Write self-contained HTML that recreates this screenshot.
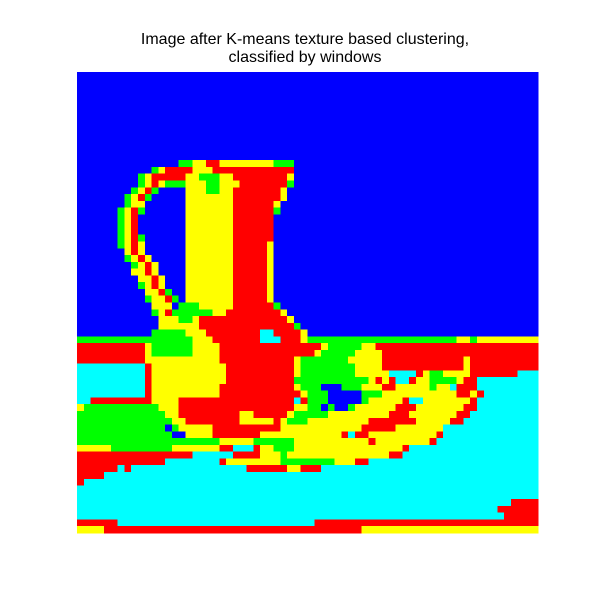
<!DOCTYPE html>
<html>
<head>
<meta charset="utf-8">
<style>
  html, body { margin: 0; padding: 0; background: #fff; }
  #wrap { position: relative; width: 600px; height: 600px; }
  .title { position: absolute; left: 0; width: 610px; text-align: center;
    font-family: "Liberation Sans", "DejaVu Sans", sans-serif; font-size: 16px; color: #000; }
</style>
</head>
<body>
<div id="wrap">
  <div class="title" style="top:31px;">Image after K-means texture based clustering,</div>
  <div class="title" style="top:49px;">classified by windows</div>
  <svg id="plot" width="600" height="600" style="position:absolute;left:0;top:0;"></svg>
</div>
<script>
// Cluster label grid (run-length per row): B=blue, G=green, Y=yellow, R=red, C=cyan
const gridRows = [
"B68","B68","B68","B68","B68","B68","B68","B68","B68","B68","B68","B68","B68",
"B15 G2 Y2 R2 Y8 G3 B36",
"B11 G1 Y1 R4 Y3 R12 B36",
"B9 G1 Y1 R5 Y2 G3 Y2 R8 Y1 B36",
"B9 G1 Y1 R1 Y1 G3 Y3 G2 Y3 R7 G1 B36",
"B8 G1 Y1 R1 G1 B4 Y3 G2 Y2 R7 Y1 B37",
"B7 G1 Y1 R1 G1 B5 Y7 R7 Y1 B37",
"B7 G1 Y2 B6 Y7 R6 Y1 B38",
"B6 G1 Y1 R1 G1 B6 Y7 R6 G1 B38",
"B6 G1 Y1 R1 B7 Y7 R6 B39",
"B6 G1 Y1 R1 B7 Y7 R6 B39",
"B6 G1 Y1 R1 B7 Y7 R6 B39",
"B6 G1 Y1 R1 G1 B6 Y7 R6 B39",
"B6 G1 Y1 R1 Y1 B6 Y7 R5 Y1 B39",
"B7 Y1 R1 Y1 B6 Y7 R5 Y1 B39",
"B7 G1 Y1 R1 Y1 B5 Y7 R5 Y1 B39",
"B8 G1 Y1 R1 Y1 B4 Y7 R5 Y1 B39",
"B8 Y2 R1 Y1 B4 Y7 R5 Y1 B39",
"B9 Y2 R1 Y1 B3 Y7 R5 Y1 B39",
"B9 G1 Y1 R1 Y1 B3 Y7 R5 Y1 B39",
"B10 Y2 R1 G1 B2 Y7 R5 Y1 B39",
"B10 G1 Y2 R1 G1 B1 Y7 R5 Y1 B39",
"B11 Y3 B1 G3 Y5 R6 G1 B38",
"B11 G1 Y1 R1 G6 Y2 R8 Y1 B37",
"B12 Y3 G2 Y1 R13 Y1 B36",
"B12 Y6 R14 G1 B35",
"B11 G5 Y3 R8 C2 R4 Y1 B34",
"G17 Y3 R7 C3 R3 Y1 G22 Y2 G1 Y9",
"R10 Y1 G6 Y4 R15 Y1 G5 Y2 R24",
"R10 Y1 G6 Y4 R14 Y1 G5 Y4 R23",
"R10 Y11 R11 Y1 G7 Y5 R12 Y1 R10",
"C10 R1 Y11 R10 Y1 G8 Y4 R12 Y1 R10",
"C10 R1 Y11 R10 Y1 G8 Y5 C4 R1 Y1 G2 Y4 R7 C3",
"C10 R1 Y11 R10 G11 Y1 R1 Y1 R1 C2 R1 Y2 G4 Y1 R2 C9",
"C10 R1 Y10 R11 Y1 G3 B3 G3 Y3 R2 Y5 G1 Y2 C1 R3 C9",
"C10 R1 Y10 R12 Y1 G3 B5 G3 Y11 R2 Y1 R1 C8",
"C2 R9 Y4 R17 C1 R1 G3 B5 G1 Y5 R1 C2 Y7 R1 C9",
"Y1 G11 Y3 R17 Y2 G2 B1 G1 B2 G1 Y6 R3 Y7 R2 C9",
"G13 Y2 R9 Y2 R5 Y1 G5 Y9 R3 Y7 R2 C10",
"G14 Y2 R8 Y5 R1 Y1 G3 Y9 R7 Y5 R2 C11",
"G13 B1 G1 Y5 R10 Y12 R5 Y7 C14",
"G14 B2 Y4 R7 Y12 R1 C1 R2 Y10 R1 C14",
"G21 Y5 G6 Y11 R1 Y8 R1 C15",
"Y5 G9 Y7 R2 C3 R1 Y2 G3 Y16 R1 C19",
"R17 C6 R4 Y3 G1 Y15 R2 C20",
"R13 C8 R1 Y8 G8 Y3 R2 C25",
"R6 C1 R1 C17 R6 Y2 R3 C32",
"R4 C64",
"R1 C67",
"C68",
"C68",
"C64 R4",
"C62 R6",
"C63 R5",
"R6 C29 R33",
"Y4 R38 Y26"
];
const clusterColors = { B: "#0000ff", G: "#00ff00", Y: "#ffff00", R: "#ff0000", C: "#00ffff" };
const nCols = 68;
const nRows = 68;

const X0 = 77, Y0 = 72, W = 461, H = 461;
function xScale(c) { return X0 + c * W / nCols; }
function yScale(r) { return Y0 + r * H / nRows; }

const svg = document.getElementById('plot');
const NS = "http://www.w3.org/2000/svg";
gridRows.forEach(function(rowStr, r) {
  let col = 0;
  const runs = rowStr.trim().split(/\s+/);
  runs.forEach(function(run) {
    const k = run[0];
    const n = parseInt(run.slice(1), 10);
    const end = Math.min(col + n, nCols);
    if (end > col) {
      const rect = document.createElementNS(NS, 'rect');
      rect.setAttribute('x', xScale(col));
      rect.setAttribute('y', yScale(r));
      rect.setAttribute('width', xScale(end) - xScale(col) + 0.5);
      rect.setAttribute('height', yScale(r + 1) - yScale(r) + 0.5);
      rect.setAttribute('fill', clusterColors[k]);
      rect.setAttribute('shape-rendering', 'crispEdges');
      
      
      svg.appendChild(rect);
    }
    col = end;
  });
  if (col < nCols) {
    const rect = document.createElementNS(NS, 'rect');
    rect.setAttribute('x', xScale(col));
    rect.setAttribute('y', yScale(r));
    rect.setAttribute('width', xScale(nCols) - xScale(col));
    rect.setAttribute('height', yScale(r + 1) - yScale(r) + 0.5);
    rect.setAttribute('fill', clusterColors.B);
    rect.setAttribute('shape-rendering', 'crispEdges');
    
    
    svg.appendChild(rect);
  }
});
</script>
</body>
</html>
